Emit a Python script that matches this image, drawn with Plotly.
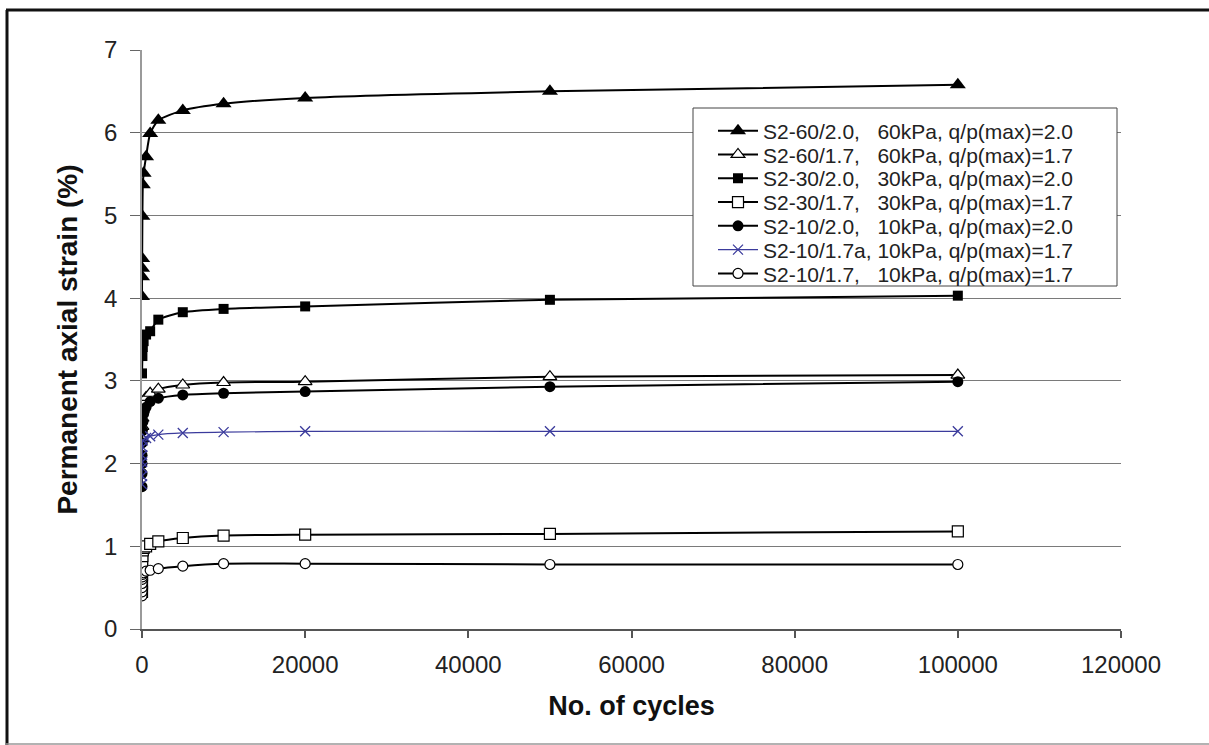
import plotly.graph_objects as go

# ---------------- data ----------------
cycles_60_20 = [1, 5, 10, 20, 50, 100, 200, 500, 1000, 2000, 5000, 10000, 20000, 50000, 100000]
strain_60_20 = [4.02, 4.26, 4.36, 4.48, 4.99, 5.37, 5.51, 5.71, 5.99, 6.15, 6.27, 6.35, 6.42, 6.50, 6.58]

cycles_60_17 = [1, 5, 10, 50, 100, 200, 500, 1000, 2000, 5000, 10000, 20000, 50000, 100000]
strain_60_17 = [2.30, 2.45, 2.55, 2.65, 2.70, 2.75, 2.80, 2.85, 2.90, 2.95, 2.98, 2.99, 3.05, 3.07]

cycles_30_20 = [1, 50, 100, 200, 500, 1000, 2000, 5000, 10000, 20000, 50000, 100000]
strain_30_20 = [3.09, 3.30, 3.41, 3.48, 3.56, 3.60, 3.74, 3.83, 3.87, 3.90, 3.98, 4.03]

cycles_30_17 = [1, 2, 5, 10, 20, 50, 100, 200, 500, 1000, 2000, 5000, 10000, 20000, 50000, 100000]
strain_30_17 = [0.45, 0.55, 0.65, 0.72, 0.80, 0.88, 0.95, 0.98, 1.00, 1.03, 1.06, 1.10, 1.13, 1.14, 1.15, 1.18]

cycles_10_20 = [1, 2, 5, 10, 20, 50, 100, 200, 500, 1000, 2000, 5000, 10000, 20000, 50000, 100000]
strain_10_20 = [1.72, 1.88, 2.00, 2.10, 2.25, 2.40, 2.50, 2.60, 2.68, 2.75, 2.79, 2.83, 2.85, 2.87, 2.93, 2.99]

cycles_10_17a = [1, 2, 5, 10, 20, 50, 100, 500, 1000, 2000, 5000, 10000, 20000, 50000, 100000]
strain_10_17a = [1.75, 1.85, 1.95, 2.02, 2.10, 2.20, 2.28, 2.31, 2.33, 2.35, 2.37, 2.38, 2.39, 2.39, 2.39]

cycles_10_17 = [1, 2, 5, 10, 20, 50, 100, 200, 500, 1000, 2000, 5000, 10000, 20000, 50000, 100000]
strain_10_17 = [0.40, 0.45, 0.50, 0.55, 0.60, 0.63, 0.66, 0.68, 0.70, 0.71, 0.73, 0.76, 0.79, 0.79, 0.78, 0.78]

names = [
    "S2-60/2.0,\u00a0\u00a0\u00a060kPa, q/p(max)=2.0",
    "S2-60/1.7,\u00a0\u00a0\u00a060kPa, q/p(max)=1.7",
    "S2-30/2.0,\u00a0\u00a0\u00a030kPa, q/p(max)=2.0",
    "S2-30/1.7,\u00a0\u00a0\u00a030kPa, q/p(max)=1.7",
    "S2-10/2.0,\u00a0\u00a0\u00a010kPa, q/p(max)=2.0",
    "S2-10/1.7a, 10kPa, q/p(max)=1.7",
    "S2-10/1.7,\u00a0\u00a0\u00a010kPa, q/p(max)=1.7",
]

x_ticks = [0, 20000, 40000, 60000, 80000, 100000, 120000]
y_ticks = [0, 1, 2, 3, 4, 5, 6, 7]

# ---------------- styling ----------------
FONT = "Arial, Liberation Sans, sans-serif"
BLACK = "#000000"
BLUE = "#3b3b9c"

series = [
    (cycles_60_20, strain_60_20, dict(symbol="triangle-up", size=14, color=BLACK, line=dict(width=0)), BLACK, 2),
    (cycles_60_17, strain_60_17, dict(symbol="triangle-up", size=12, color="white", line=dict(width=1.2, color=BLACK)), BLACK, 2),
    (cycles_30_20, strain_30_20, dict(symbol="square", size=10, color=BLACK, line=dict(width=0)), BLACK, 2),
    (cycles_30_17, strain_30_17, dict(symbol="square", size=11, color="white", line=dict(width=1.2, color=BLACK)), BLACK, 2),
    (cycles_10_20, strain_10_20, dict(symbol="circle", size=11, color=BLACK, line=dict(width=0)), BLACK, 2),
    (cycles_10_17a, strain_10_17a, dict(symbol="x-thin", size=10, color=BLUE, line=dict(width=1.3, color=BLUE)), BLUE, 1.2),
    (cycles_10_17, strain_10_17, dict(symbol="circle", size=10, color="white", line=dict(width=1.2, color=BLACK)), BLACK, 2),
]

# plot-area geometry in pixels
W, H = 1209, 745
L, R, T, B = 142, 1121, 50, 629


def px_x(p):
    return (p - L) / (R - L)


def px_y(p):
    return (B - p) / (B - T)


# legend layout (pixels)
LEG_BOX = (693, 108, 1117, 286)
LEG_ROW0, LEG_ROW_STEP = 131, 23.8
LEG_TEXT_X = 763
LEG_ITEMW = 40

fig = go.Figure()
legend_layouts = {}
for i, ((xs, ys, mk, lc, lw), nm) in enumerate(zip(series, names)):
    key = "legend" if i == 0 else f"legend{i + 1}"
    fig.add_trace(go.Scatter(
        x=xs, y=ys, name=nm, mode="lines+markers",
        line=dict(color=lc, width=lw, shape="spline", smoothing=0.6),
        marker=mk, legend=key,
    ))
    legend_layouts[key] = dict(
        x=px_x(LEG_TEXT_X - LEG_ITEMW - 10), y=px_y(LEG_ROW0 + i * LEG_ROW_STEP),
        xanchor="left", yanchor="middle",
        bgcolor="rgba(0,0,0,0)", borderwidth=0,
        font=dict(family=FONT, size=21, color="#222"),
        itemwidth=LEG_ITEMW,
    )

shapes = [
    # outer frame of the figure
    dict(type="line", xref="paper", yref="paper", x0=px_x(7), x1=px_x(7), y0=px_y(10), y1=px_y(745),
         line=dict(color="#111", width=3)),
    dict(type="line", xref="paper", yref="paper", x0=px_x(6), x1=px_x(1215), y0=px_y(10), y1=px_y(10),
         line=dict(color="#111", width=3)),
    dict(type="line", xref="paper", yref="paper", x0=px_x(6), x1=px_x(1215), y0=px_y(744), y1=px_y(744),
         line=dict(color="#999", width=1.5)),
    # legend box
    dict(type="rect", xref="paper", yref="paper", layer="above",
         x0=px_x(LEG_BOX[0]), x1=px_x(LEG_BOX[2]), y0=px_y(LEG_BOX[1]), y1=px_y(LEG_BOX[3]),
         fillcolor="white", line=dict(color="#444", width=1)),
]

fig.update_layout(
    width=W, height=H,
    margin=dict(l=L, r=W - R, t=T, b=H - B, autoexpand=False),
    paper_bgcolor="white", plot_bgcolor="white",
    font=dict(family=FONT, color="#222"),
    showlegend=True,
    shapes=shapes,
    **legend_layouts,
)

fig.update_xaxes(
    range=[0, 120000], tickvals=x_ticks, ticktext=[str(v) for v in x_ticks],
    showgrid=False, zeroline=False,
    showline=True, linecolor="#555", linewidth=1.5,
    ticks="outside", ticklen=7, tickcolor="#555", tickwidth=1.5,
    tickfont=dict(family=FONT, size=24, color="#222"), ticklabelstandoff=6,
    title=dict(text="<b>No. of cycles</b>", font=dict(family=FONT, size=27, color="#111"), standoff=20),
)
fig.update_yaxes(
    range=[0, 7], tickvals=y_ticks,
    showgrid=True, gridcolor="#7a7a7a", gridwidth=1, zeroline=False,
    showline=True, linecolor="#9a9a9a", linewidth=1.5,
    ticks="outside", ticklen=10, tickcolor="#666", tickwidth=1.2,
    tickfont=dict(family=FONT, size=24, color="#222"), ticklabelstandoff=8,
    title=dict(text="<b>Permanent axial strain (%)</b>", font=dict(family=FONT, size=28, color="#111"), standoff=18),
)

fig.write_html(
    "out.html",
    config={"displayModeBar": False},
    post_script="document.body.style.margin='0px';document.body.style.overflow='hidden';",
)
